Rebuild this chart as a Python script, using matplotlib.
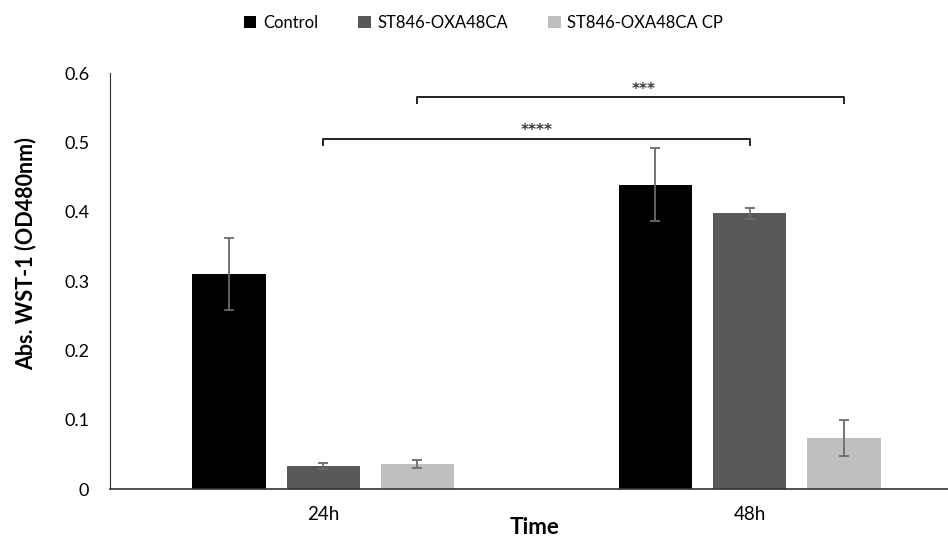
import numpy as np
import matplotlib
matplotlib.use("Agg")
import matplotlib.pyplot as plt

plt.rcParams["font.family"] = ["Lato", "DejaVu Sans"]

# data
times = ["24h", "48h"]
groups = ["Control", "ST846-OXA48CA", "ST846-OXA48CA CP"]
means = {
    "Control": [0.310, 0.439],
    "ST846-OXA48CA": [0.033, 0.398],
    "ST846-OXA48CA CP": [0.036, 0.074],
}
errors = {
    "Control": [0.052, 0.053],
    "ST846-OXA48CA": [0.004, 0.008],
    "ST846-OXA48CA CP": [0.006, 0.026],
}
colors = ["#000000", "#595959", "#bfbfbf"]
yticks = [0, 0.1, 0.2, 0.3, 0.4, 0.5, 0.6]

fig = plt.figure(figsize=(9.48, 5.38), dpi=100)
ax = fig.add_axes([0.116, 0.091, 0.884, 0.773])

x = np.arange(len(times))
width = 0.172
step = 0.221
for i, g in enumerate(groups):
    ax.bar(x + (i - 1) * step, means[g], width, color=colors[i], label=g,
           yerr=errors[g], capsize=3.5,
           error_kw={"ecolor": "#6b6b6b", "elinewidth": 1.3, "capthick": 1.3})

# significance brackets
def bracket(x1, x2, y, drop, label, tx):
    ax.plot([x1, x1, x2, x2], [y - drop, y, y, y - drop], color="#222222", lw=1.4)
    ax.text(tx, y + 0.001, label, ha="center", va="bottom", fontsize=11,
            fontweight="bold", color="#3a3a3a", family="DejaVu Sans")

bracket(x[0], x[1], 0.505, 0.008, "****", 0.5)
bracket(x[0] + step, x[1] + step, 0.565, 0.008, "***", 0.752)

ax.set_xlim(-0.5, 1.465)
ax.set_ylim(0, 0.6)
ax.set_yticks(yticks)
ax.set_yticklabels(["0", "0.1", "0.2", "0.3", "0.4", "0.5", "0.6"], fontsize=13)
ax.set_xticks(x)
ax.set_xticklabels(times, fontsize=13.5)
ax.tick_params(axis="x", length=0, pad=12)
ax.tick_params(axis="y", length=0, pad=15)
ax.spines["top"].set_visible(False)
ax.spines["right"].set_visible(False)
ax.spines["left"].set_color("#333333")
ax.spines["bottom"].set_color("#333333")
ax.spines["bottom"].set_linewidth(1.2)

ax.set_ylabel("Abs. WST-1 (OD480nm)", fontsize=15.5, fontweight="bold")
ax.yaxis.set_label_coords(-0.088, 0.567)
ax.set_xlabel("Time", fontsize=16, fontweight="bold")
ax.xaxis.set_label_coords(0.507, -0.068)

fig.legend(loc="upper center", bbox_to_anchor=(0.51, 1.0), ncol=3, frameon=False,
           fontsize=12, handlelength=0.75, handleheight=0.75, columnspacing=2.4,
           handletextpad=0.4)

fig.savefig("out.png", dpi=100)
